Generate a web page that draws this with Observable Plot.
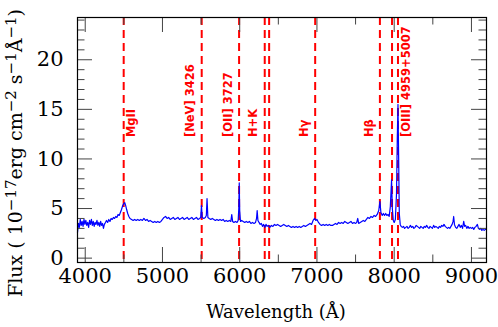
<!DOCTYPE html>
<html>
<head>
<meta charset="utf-8">
<script src="https://cdn.jsdelivr.net/npm/d3@7"></script>
<script src="https://cdn.jsdelivr.net/npm/@observablehq/plot@0.6"></script>
<style>
  html, body { margin: 0; padding: 0; background: white; }
</style>
</head>
<body>
<div id="chart"></div>
<script>
// Spectrum: [observed wavelength (Å), flux (1e-17 erg cm^-2 s^-1 Å^-1)]
const spectrum = [
  [3900,2.6],[3912,3.5],[3924,3.1],[3936,3.9],[3948,3.3],[3960,3.7],[3972,3.2],[3984,3.9],
  [3996,3.4],[4008,3.8],[4020,3.3],[4032,3.6],[4044,3.1],[4056,3.8],[4068,3.4],[4080,3.9],
  [4092,3.3],[4104,3.7],[4116,3.2],[4128,3.6],[4140,3.4],[4152,3.8],[4164,3.3],[4176,3.6],
  [4188,3.2],[4200,3.7],[4212,3.3],[4224,3.5],[4236,3.0],[4248,3.4],[4262,3.6],[4275,3.8],
  [4290,3.6],[4305,3.9],[4320,3.7],[4335,4.0],[4350,3.9],[4365,4.1],[4380,4.0],[4395,4.2],
  [4410,4.1],[4425,4.4],[4440,4.3],[4455,4.6],[4470,4.9],[4485,5.3],[4500,5.5],[4512,5.6],
  [4524,5.3],[4536,4.9],[4550,4.5],[4565,4.2],[4580,4.0],[4600,3.9],[4620,3.8],[4640,3.9],
  [4660,3.8],[4680,3.9],[4700,3.8],[4720,3.9],[4740,3.8],[4760,4.0],[4780,3.8],[4800,3.9],
  [4820,3.7],[4840,3.8],[4860,3.7],[4880,3.6],[4900,3.7],[4920,3.6],[4940,3.7],[4960,3.6],
  [4980,3.7],[5000,3.9],[5020,4.1],[5040,4.2],[5060,4.0],[5080,4.1],[5100,3.9],[5120,4.0],
  [5140,4.1],[5160,3.9],[5180,4.0],[5200,4.1],[5220,3.9],[5240,4.0],[5260,4.1],[5280,3.9],
  [5300,4.0],[5320,4.1],[5340,3.9],[5360,4.0],[5380,4.1],[5400,3.9],[5420,4.0],[5440,4.1],
  [5460,3.9],[5480,4.0],[5495,4.1],[5505,5.3],[5515,4.1],[5535,4.0],[5555,4.1],[5568,4.3],
  [5577,6.0],[5588,4.1],[5605,4.0],[5625,3.9],[5645,4.0],[5665,3.9],[5685,3.8],[5705,3.9],
  [5725,3.8],[5745,3.9],[5765,3.8],[5785,3.9],[5805,3.7],[5825,3.8],[5845,3.7],[5865,3.8],
  [5885,3.7],[5897,4.4],[5908,3.7],[5925,3.6],[5945,3.7],[5965,3.6],[5980,3.8],[5988,5.0],
  [5994,7.6],[6000,4.8],[6010,3.7],[6025,3.8],[6045,3.7],[6065,3.6],[6085,3.7],[6105,3.6],
  [6125,3.7],[6145,3.5],[6165,3.6],[6185,3.5],[6205,3.6],[6218,4.0],[6226,4.8],[6236,3.8],
  [6250,3.6],[6265,3.4],[6280,3.5],[6295,3.2],[6310,3.4],[6325,3.1],[6340,3.4],[6355,3.2],
  [6370,3.3],[6390,3.1],[6410,3.3],[6430,3.2],[6450,3.4],[6470,3.3],[6490,3.4],[6510,3.3],
  [6530,3.2],[6550,3.3],[6570,3.4],[6590,3.3],[6610,3.2],[6630,3.3],[6650,3.2],[6670,3.1],
  [6690,3.2],[6710,3.1],[6730,3.2],[6750,3.1],[6770,3.2],[6790,3.1],[6810,3.2],[6830,3.3],
  [6850,3.2],[6870,3.3],[6890,3.4],[6910,3.5],[6930,3.4],[6950,3.8],[6970,4.0],[6985,3.8],
  [7000,3.9],[7020,3.6],[7040,3.4],[7060,3.3],[7080,3.4],[7100,3.3],[7120,3.4],[7140,3.3],
  [7160,3.4],[7180,3.3],[7200,3.3],[7220,3.4],[7240,3.5],[7260,3.4],[7280,3.6],[7300,3.5],
  [7320,3.6],[7340,3.5],[7360,3.7],[7380,3.6],[7400,3.5],[7420,3.6],[7440,3.7],[7460,3.5],
  [7480,3.6],[7500,3.5],[7515,3.6],[7528,4.0],[7540,3.5],[7560,3.6],[7580,3.7],[7600,3.8],
  [7620,3.7],[7640,3.9],[7660,4.1],[7680,4.0],[7700,4.2],[7720,4.1],[7740,4.3],[7760,4.2],
  [7780,4.4],[7800,4.8],[7815,5.7],[7828,4.6],[7845,4.3],[7860,4.5],[7875,4.3],[7890,4.5],
  [7905,4.3],[7920,4.4],[7935,4.2],[7950,5.2],[7966,7.9],[7976,5.0],[7988,3.8],[8000,3.6],
  [8015,3.9],[8030,6.5],[8040,12.0],[8049,15.5],[8058,10.0],[8066,4.5],[8078,3.4],[8090,3.2],
  [8105,3.1],[8120,3.2],[8135,3.0],[8150,3.1],[8165,3.2],[8180,3.0],[8195,3.1],[8210,3.3],
  [8225,3.1],[8240,3.2],[8255,3.0],[8270,3.1],[8285,3.3],[8300,3.2],[8315,3.1],[8330,3.0],
  [8345,3.2],[8360,3.1],[8375,3.0],[8390,3.2],[8405,3.1],[8420,3.3],[8435,3.1],[8450,3.0],
  [8465,3.2],[8480,3.1],[8495,3.0],[8510,3.3],[8525,3.1],[8540,3.2],[8555,3.1],[8570,3.0],
  [8585,3.2],[8600,3.1],[8615,3.3],[8630,3.2],[8645,3.4],[8660,3.2],[8675,3.1],[8690,3.0],
  [8705,3.1],[8720,3.0],[8735,3.2],[8750,3.4],[8762,3.7],[8770,4.2],[8780,3.4],[8795,3.1],
  [8810,3.0],[8825,3.2],[8840,3.4],[8855,3.1],[8870,3.3],[8885,3.0],[8900,3.7],[8912,3.2],
  [8925,3.3],[8940,3.0],[8955,3.2],[8970,3.0],[8985,3.1],[9000,3.0],[9015,3.1],[9030,2.9],
  [9045,3.1],[9060,3.2],[9077,3.4],[9090,3.0],[9105,2.9],[9120,3.0],[9135,2.8],[9150,2.9],
  [9165,2.8],[9180,2.9],[9195,2.9]
];

// Emission-line positions (observed Å)
const lineWaves = [4498, 5508, 5992, 6324, 6381, 6977, 7815, 7972, 8049];

// Line labels
const labelTexts = ["MgII", "[NeV] 3426", "[OII] 3727", "H+K", "Hγ", "Hβ", "[OIII] 4959+5007"];
const labelWaves = [4498, 5508, 5992, 6324, 6977, 7815, 8049];
const rightSideLabels = ["MgII", "[OIII] 4959+5007"];

// Axis ticks
const xMajor = [4000, 5000, 6000, 7000, 8000, 9000];
const xMinor = [4500, 5500, 6500, 7500, 8500];
const yMajor = [0, 5, 10, 15, 20];
const yMinor = [1, 2, 3, 4, 6, 7, 8, 9, 11, 12, 13, 14, 16, 17, 18, 19, 21, 22, 23, 24];

const data = spectrum.map(([w, f]) => ({w, f}));
const labels = labelTexts.map((t, i) => ({t, w: labelWaves[i]}));

const W = 498, H = 327, mL = 77, mR = 12, mT = 17, mB = 65;
const iW = W - mL - mR, iH = H - mT - mB;
const tickCol = "#444";
const serif = "'DejaVu Serif', serif";
const labelFont = "'DejaVu Sans', sans-serif";

const plot = Plot.plot({
  width: W, height: H,
  marginLeft: mL, marginRight: mR, marginTop: mT, marginBottom: mB,
  style: {fontFamily: serif, background: "white", color: "black"},
  x: {domain: [3900, 9195]},
  y: {domain: [-0.44, 24.26]},
  marks: [
    Plot.ruleX(lineWaves, {x: d => d, stroke: "#ff0000", strokeWidth: 2, strokeDasharray: "8,5"}),
    Plot.line(data, {x: "w", y: "f", stroke: "#0000ff", strokeWidth: 1.2}),
    Plot.text(labels.filter(d => !rightSideLabels.includes(d.t)), {
      x: "w", y: () => 12.2, text: "t", rotate: -90, textAnchor: "start", lineAnchor: "middle",
      dx: -11, fill: "#ff0000", fontWeight: "bold", fontSize: 11.5, fontFamily: labelFont
    }),
    Plot.text(labels.filter(d => rightSideLabels.includes(d.t)), {
      x: "w", y: () => 12.2, text: "t", rotate: -90, textAnchor: "start", lineAnchor: "middle",
      dx: 8, fill: "#ff0000", fontWeight: "bold", fontSize: 11.5, fontFamily: labelFont
    }),
    // inward ticks: bottom & top, major and minor
    Plot.tickX(xMajor, {x: d => d, stroke: tickCol, insetTop: iH - 15}),
    Plot.tickX(xMajor, {x: d => d, stroke: tickCol, insetBottom: iH - 15}),
    Plot.tickX(xMinor, {x: d => d, stroke: tickCol, insetTop: iH - 7.5}),
    Plot.tickX(xMinor, {x: d => d, stroke: tickCol, insetBottom: iH - 7.5}),
    Plot.tickY(yMajor, {y: d => d, stroke: tickCol, insetRight: iW - 15}),
    Plot.tickY(yMajor, {y: d => d, stroke: tickCol, insetLeft: iW - 15}),
    Plot.tickY(yMinor, {y: d => d, stroke: tickCol, insetRight: iW - 7.5}),
    Plot.tickY(yMinor, {y: d => d, stroke: tickCol, insetLeft: iW - 7.5}),
    Plot.frame({stroke: "black", strokeWidth: 1.2}),
    Plot.axisX(xMajor, {tickSize: 0, tickPadding: 6, fontSize: 21, tickFormat: d => String(d), label: null}),
    Plot.axisY(yMajor, {tickSize: 0, tickPadding: 14, fontSize: 21, tickFormat: d => String(d), label: null})
  ]
});

document.getElementById("chart").appendChild(plot);

const svg = d3.select(plot);
svg.append("text")
  .attr("x", 276).attr("y", 318)
  .attr("text-anchor", "middle")
  .attr("font-family", serif)
  .attr("font-size", 18)
  .attr("fill", "black")
  .text("Wavelength (Å)");

const yt = svg.append("text")
  .attr("transform", "translate(22,153) rotate(-90)")
  .attr("text-anchor", "middle")
  .attr("font-family", serif)
  .attr("font-size", 19)
  .attr("fill", "black");
const parts = [
  ["Flux ( 10", false], ["−17", true], ["erg cm", false], ["−2", true],
  [" s", false], ["−1", true], ["Å", false], ["−1", true], [")", false]
];
parts.forEach(([t, sup]) => {
  const ts = yt.append("tspan").text(t);
  if (sup) ts.attr("font-size", 15).attr("baseline-shift", "40%");
});
</script>
</body>
</html>
